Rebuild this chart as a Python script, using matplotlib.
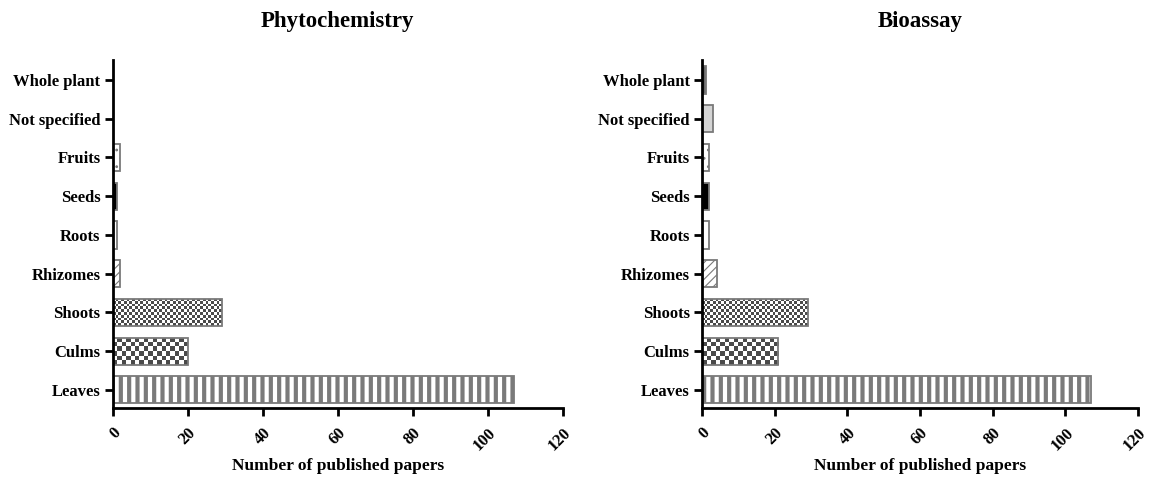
import matplotlib
matplotlib.use("Agg")
import matplotlib.pyplot as plt
import numpy as np
from matplotlib.colors import ListedColormap

plt.rcParams['font.family'] = 'Liberation Serif'
plt.rcParams['font.weight'] = 'bold'

parts = ["Leaves", "Culms", "Shoots", "Rhizomes", "Roots", "Seeds", "Fruits",
         "Not specified", "Whole plant"]
phyto = [107, 20, 29, 2, 1, 1, 2, 0, 0]
bioassay = [107, 21, 29, 4, 2, 2, 2, 3, 1]

# fill, hatch, hatch linewidth per category; checker = cell size in px (0 = none)
fills = ["white", "none", "none", "white", "white", "black", "white", "#d4d4d4", "#6a6a6a"]
hatches = ["||", None, None, "////", None, None, "..", None, None]
hatch_lw = [3.0, 1, 1, 0.8, 1, 1, 0.8, 1, 1]
checker = [0, 4.4, 2.7, 0, 0, 0, 0, 0, 0]
edge = "#7a7a7a"


def checker_fill(ax, bar, cell):
    # checkerboard image clipped to the bar
    x0, y0 = bar.get_x(), bar.get_y()
    x1, y1 = x0 + bar.get_width(), y0 + bar.get_height()
    if x1 - x0 <= 0:
        return
    p0 = ax.transData.transform((x0, y0))
    p1 = ax.transData.transform((x1, y1))
    nx = max(1, int(round(abs(p1[0] - p0[0]) / cell)))
    ny = max(1, int(round(abs(p1[1] - p0[1]) / cell)))
    arr = (np.add.outer(np.arange(ny), np.arange(nx)) % 2)
    im = ax.imshow(arr, extent=(x0, x1, y0, y1), cmap=ListedColormap(["white", "#4a4a4a"]),
                   interpolation='nearest', aspect='auto', zorder=1.5)
    im.set_clip_path(bar)


def panel(ax, vals, title):
    ax.set_xlim(0, 120)
    ax.set_ylim(-0.47, 8.52)
    for i in range(len(parts)):
        plt.rcParams['hatch.linewidth'] = hatch_lw[i]
        plt.rcParams['hatch.color'] = "#6a6a6a"
        bars = ax.barh(i, vals[i], height=0.7, color=fills[i], edgecolor=edge,
                       linewidth=1.3, hatch=hatches[i], zorder=2)
        if checker[i]:
            checker_fill(ax, bars[0], checker[i])
    ax.set_xlim(0, 120)
    ax.set_ylim(-0.47, 8.52)
    ax.set_yticks(range(len(parts)))
    ax.set_yticklabels(parts, fontsize=12, fontweight='bold')
    ax.set_xticks([0, 20, 40, 60, 80, 100, 120])
    ax.set_xticklabels([0, 20, 40, 60, 80, 100, 120], rotation=45, fontsize=12,
                       fontweight='bold', ha='right', va='top', rotation_mode='anchor')
    ax.spines['top'].set_visible(False)
    ax.spines['right'].set_visible(False)
    ax.spines['left'].set_linewidth(2)
    ax.spines['bottom'].set_linewidth(2)
    ax.spines['left'].set_zorder(3)
    ax.tick_params(width=2, length=6, direction='out', pad=3)
    ax.tick_params(axis='x', pad=6)
    ax.set_title(title, fontsize=16.5, fontweight='bold', pad=24)
    ax.set_xlabel("Number of published papers", fontsize=12.5, fontweight='bold',
                  labelpad=3)


fig = plt.figure(figsize=(11.53, 4.79), dpi=100)
ax1 = fig.add_axes([0.098, 0.148, 0.390, 0.727])
ax2 = fig.add_axes([0.609, 0.148, 0.378, 0.727])
panel(ax1, phyto, "Phytochemistry")
panel(ax2, bioassay, "Bioassay")

fig.savefig("out.png", dpi=100)
